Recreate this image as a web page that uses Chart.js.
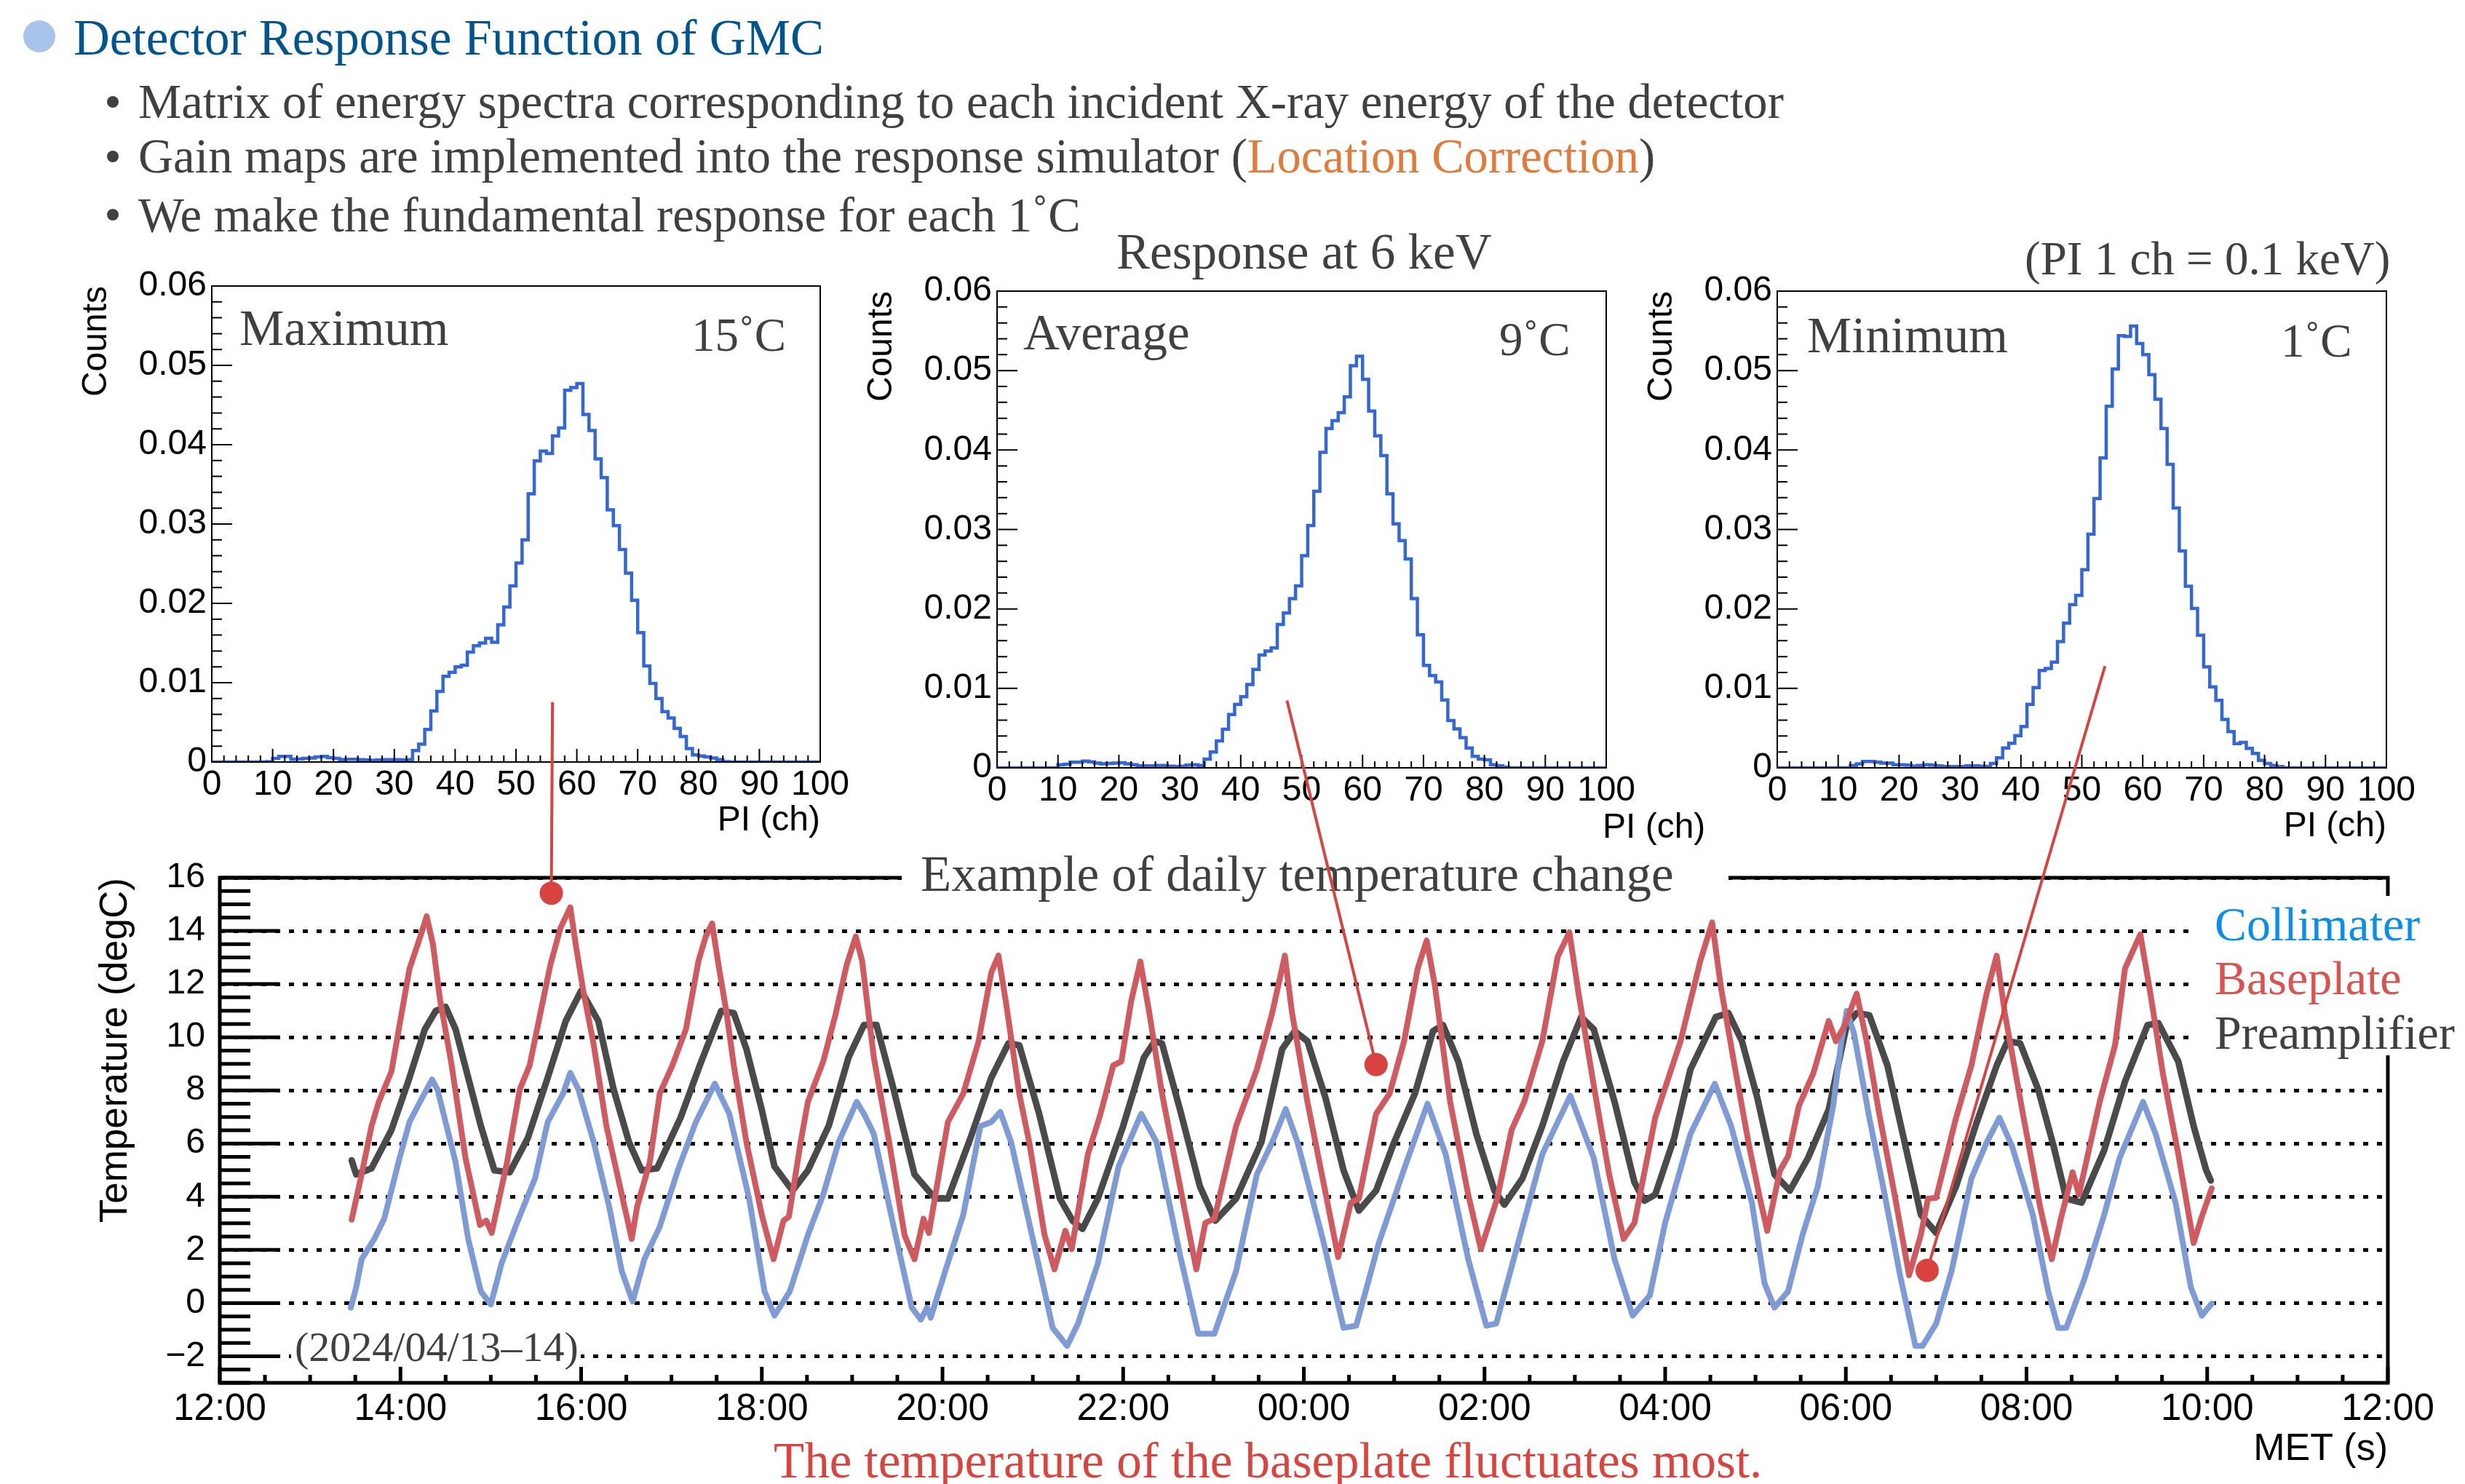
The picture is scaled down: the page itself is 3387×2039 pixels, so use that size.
<!DOCTYPE html>
<html>
<head>
<meta charset="utf-8">
<title>Detector Response Function of GMC</title>
<script src="https://cdn.jsdelivr.net/npm/chart.js@4/dist/chart.umd.min.js"></script>
<style>
  html, body { margin: 0; background: #fff; }
  #page { position: relative; width: 3387px; height: 2039px; overflow: hidden; background: #fff; }
  canvas { position: absolute; }
  .txt { position: absolute; white-space: nowrap; font-family: "Liberation Serif", serif; color: #404040; line-height: normal; z-index: 3; }
  .sans { font-family: "Liberation Sans", sans-serif; color: #000; }
  .mask { position: absolute; background: #fff; z-index: 2; }
  .dot { position: absolute; border-radius: 50%; z-index: 3; }
  #links { z-index: 4; pointer-events: none; }
</style>
</head>
<body>
<div id="page">
  <canvas id="hist1"></canvas>
  <canvas id="hist2"></canvas>
  <canvas id="hist3"></canvas>
  <canvas id="temp"></canvas>
  <canvas id="links" width="3387" height="2039"></canvas>
</div>
<script>
// ── Histograms: counts per PI bin, in units of 0.001 ──────────
const histMax = [0,0,0,0,0,0,0,0,0,0.05,
  0.45,0.7,0.7,0.35,0.4,0.45,0.5,0.65,0.7,0.55,
  0.45,0.3,0.35,0.35,0.3,0.25,0.2,0.25,0.3,0.3,
  0.3,0.25,0.3,1.45,2.25,4.1,6.45,8.9,10.8,11.3,
  12.0,12.2,13.85,14.65,15.0,15.6,15.1,17.3,19.55,22.2,
  25.1,28.0,33.8,37.95,39.2,38.9,41.1,42.1,46.85,47.2,
  47.7,43.8,41.8,38.2,35.85,31.8,29.8,26.8,23.8,20.4,
  16.3,12.1,9.9,8.0,6.35,5.55,4.25,3.2,1.7,0.9,
  0.75,0.65,0.5,0.3,0.05,0,0,0,0,0,
  0,0,0,0,0,0,0,0,0,0];
const histAvg = [0,0,0,0,0,0,0,0,0,0,
  0.4,0.45,0.7,0.7,0.85,0.75,0.6,0.5,0.55,0.6,
  0.65,0.5,0.4,0.25,0.25,0.25,0.3,0.3,0.2,0.15,
  0.2,0.35,0.4,0.3,1.1,2.0,3.4,4.85,6.7,8.0,
  8.95,10.5,12.4,14.2,14.7,15.1,18.05,19.5,21.3,22.9,
  26.7,30.5,34.8,39.7,42.7,43.7,44.7,46.7,50.6,51.8,
  48.9,44.9,41.8,39.3,34.5,30.7,28.6,26.3,21.3,16.75,
  12.9,11.6,10.8,8.55,5.95,4.9,3.8,2.5,1.45,1.1,
  1.0,0.4,0.25,0.1,0,0,0,0,0,0,
  0,0,0,0,0,0,0,0,0,0];
const histMin = [0,0,0,0,0,0,0,0,0,0,
  0,0,0.3,0.5,0.8,0.8,0.7,0.6,0.6,0.4,
  0.4,0.35,0.2,0.3,0.4,0.35,0.25,0.15,0.15,0.15,
  0.15,0.25,0.25,0.2,0.15,0.55,1.25,2.5,3.1,4.05,
  5.2,8.0,10.1,12.25,12.5,13.3,15.9,18.2,20.55,21.7,
  24.95,29.4,33.9,39.0,45.5,50.2,54.4,54.3,55.6,53.4,
  52.0,49.5,46.4,42.7,38.2,32.7,27.3,22.85,20.05,16.7,
  12.7,10.2,8.5,6.1,4.55,3.05,3.2,2.45,1.8,0.95,
  0.55,0.3,0.15,0,0,0,0,0,0,0,
  0,0,0,0,0,0,0,0,0,0];

const piTicks = [0, 10, 20, 30, 40, 50, 60, 70, 80, 90, 100];
const countTicks = [0, 0.01, 0.02, 0.03, 0.04, 0.05, 0.06];
const countLabels = ['0', '0.01', '0.02', '0.03', '0.04', '0.05', '0.06'];

// ── Temperature curves: hours after 12:00 and degC ────────────
const baseHours = [1.46,1.57,1.68,1.76,1.90,1.99,2.10,2.22,2.29,2.36,2.44,2.56,2.72,2.88,2.95,3.01,3.18,3.32,3.43,3.54,3.66,3.77,3.88,3.94,4.02,4.14,4.28,4.45,4.56,4.62,4.76,4.87,5.01,5.16,5.30,5.38,5.45,5.52,5.61,5.69,5.83,6.00,6.13,6.24,6.30,6.43,6.51,6.68,6.82,6.94,7.04,7.11,7.24,7.41,7.58,7.69,7.79,7.85,8.06,8.23,8.40,8.54,8.62,8.70,8.85,8.96,9.13,9.24,9.36,9.43,9.61,9.75,9.89,9.98,10.09,10.19,10.29,10.43,10.63,10.81,10.91,11.01,11.25,11.48,11.65,11.79,11.87,12.04,12.27,12.38,12.52,12.61,12.80,12.95,13.11,13.26,13.36,13.45,13.62,13.82,13.96,14.14,14.30,14.44,14.64,14.81,14.94,15.04,15.21,15.38,15.54,15.66,15.89,16.17,16.39,16.52,16.62,16.76,16.93,17.04,17.13,17.27,17.36,17.48,17.64,17.81,17.89,17.99,18.12,18.23,18.37,18.54,18.70,18.83,18.91,19.00,19.22,19.39,19.56,19.67,19.76,19.96,20.15,20.28,20.38,20.51,20.58,20.81,20.98,21.09,21.26,21.37,21.51,21.68,21.85,21.94,22.05];
const baseTemps = [3.14,4.84,6.66,7.57,8.71,10.46,12.58,13.79,14.55,13.49,11.37,9.09,5.45,2.94,3.10,2.64,5.30,8.03,8.94,10.76,12.73,14.10,14.89,13.49,11.82,9.70,6.66,4.08,2.41,3.63,5.30,7.88,8.94,10.30,12.88,13.79,14.28,12.73,10.91,8.94,6.05,3.32,1.65,3.10,3.25,6.05,7.57,9.09,10.91,12.73,13.79,12.88,9.24,6.05,2.56,1.65,3.17,2.64,6.81,7.88,9.85,12.43,13.07,11.37,7.88,6.05,2.56,1.27,2.72,2.03,5.60,7.12,8.94,9.09,11.37,12.85,10.91,7.88,4.39,1.27,3.02,3.17,6.66,8.79,10.91,13.07,10.91,7.57,3.63,1.73,3.78,3.93,7.12,7.88,9.85,12.58,13.64,11.97,7.57,4.08,2.03,3.93,6.51,7.57,9.85,13.03,13.95,11.67,8.18,4.84,2.41,3.02,6.97,9.85,12.88,14.32,11.82,9.09,5.90,4.08,2.72,4.98,5.52,7.42,8.64,10.61,9.85,10.46,11.64,9.85,7.12,4.08,1.05,2.56,3.93,3.96,6.97,8.94,11.67,13.07,10.91,7.12,3.63,1.65,3.17,4.92,4.08,7.57,9.70,12.58,13.87,11.67,8.63,5.60,2.26,3.25,4.31];

const preHours = [1.46,1.51,1.68,1.90,2.10,2.27,2.39,2.50,2.61,2.75,2.89,3.04,3.21,3.41,3.63,3.83,4.00,4.19,4.36,4.53,4.67,4.84,5.10,5.33,5.55,5.69,5.83,6.00,6.14,6.34,6.51,6.74,6.96,7.13,7.27,7.46,7.69,7.92,8.06,8.31,8.54,8.73,8.85,9.07,9.30,9.44,9.55,9.72,10.00,10.23,10.35,10.43,10.63,10.85,11.02,11.25,11.53,11.76,11.90,12.04,12.24,12.44,12.61,12.80,13.00,13.23,13.43,13.54,13.71,13.91,14.11,14.22,14.42,14.64,14.87,15.07,15.21,15.44,15.66,15.77,15.89,16.10,16.28,16.56,16.70,16.85,17.02,17.21,17.38,17.58,17.81,18.01,18.12,18.26,18.46,18.63,18.83,19.00,19.22,19.45,19.67,19.79,19.93,20.13,20.30,20.44,20.61,20.86,21.09,21.34,21.46,21.68,21.85,21.99,22.04];
const preTemps = [5.37,4.84,5.07,6.51,8.48,10.30,10.99,11.14,10.30,8.48,6.66,4.99,4.92,6.21,8.48,10.61,11.75,10.61,8.03,6.05,4.99,5.07,6.97,9.09,10.99,10.91,9.55,7.27,5.14,4.23,4.99,6.66,9.24,10.46,10.46,8.03,4.84,3.93,3.93,6.21,8.48,9.77,9.70,7.12,3.93,3.10,2.79,3.93,6.66,9.24,9.85,9.77,7.27,4.39,3.10,3.93,6.05,9.55,10.23,9.85,7.72,4.99,3.48,4.23,6.05,7.88,10.23,10.46,9.09,6.36,4.23,3.70,4.69,6.66,9.09,10.76,10.30,7.57,4.54,3.85,4.08,6.21,8.79,10.76,10.91,9.85,7.72,4.84,4.23,5.45,7.27,10.46,10.91,10.83,8.94,6.36,3.33,2.64,4.39,6.81,8.94,9.85,9.77,8.03,5.90,3.93,3.78,5.75,8.33,10.46,10.53,9.09,6.66,4.99,4.61];

const collHours = [1.45,1.51,1.57,1.71,1.82,1.99,2.10,2.24,2.35,2.41,2.61,2.75,2.89,3.00,3.12,3.29,3.49,3.63,3.80,3.88,3.97,4.14,4.31,4.45,4.57,4.70,4.87,5.07,5.27,5.48,5.64,5.86,6.03,6.14,6.31,6.51,6.68,6.85,7.05,7.13,7.24,7.46,7.66,7.76,7.83,7.87,8.03,8.23,8.42,8.54,8.64,8.76,8.99,9.22,9.38,9.50,9.72,9.95,10.20,10.37,10.63,10.83,11.01,11.25,11.48,11.65,11.80,11.93,12.21,12.44,12.58,12.83,13.12,13.37,13.57,13.82,14.02,14.13,14.36,14.64,14.95,15.21,15.44,15.64,15.83,16.00,16.28,16.55,16.73,16.96,17.10,17.21,17.36,17.52,17.69,17.86,17.95,18.01,18.09,18.26,18.43,18.60,18.77,18.85,19.00,19.17,19.39,19.56,19.70,19.84,20.07,20.24,20.35,20.44,20.64,20.86,21.03,21.29,21.43,21.65,21.82,21.94,22.05];
const collTemps = [-0.17,0.59,1.65,2.41,3.17,5.45,6.81,7.72,8.41,8.03,5.30,2.41,0.44,-0.05,1.50,3.02,4.69,6.81,7.88,8.66,8.03,6.05,3.63,1.20,0.06,1.65,2.87,4.99,6.81,8.25,7.12,3.93,0.44,-0.47,0.44,2.56,4.08,6.05,7.57,7.12,6.36,2.87,-0.17,-0.62,-0.17,-0.55,1.20,3.32,6.66,6.81,7.19,6.05,2.56,-0.93,-1.61,-0.77,1.50,5.14,7.12,6.05,1.81,-1.15,-1.15,1.20,4.84,6.05,7.30,6.05,2.41,-0.93,-0.85,2.26,5.14,7.50,5.60,1.65,-0.85,-0.77,2.11,5.60,7.80,5.45,1.65,-0.47,0.29,3.02,6.36,8.25,6.66,3.78,0.74,-0.17,0.44,2.56,4.39,7.42,9.85,10.99,10.15,6.97,4.08,1.05,-1.61,-1.61,-0.77,1.20,4.69,6.05,6.97,5.90,3.32,0.44,-0.93,-0.93,0.90,3.32,5.45,7.57,6.36,3.78,0.59,-0.47,-0.02];

const hourTicks = [0, 2, 4, 6, 8, 10, 12, 14, 16, 18, 20, 22, 24];
const hourLabels = ['12:00','14:00','16:00','18:00','20:00','22:00','00:00','02:00','04:00','06:00','08:00','10:00','12:00'];
const tempTicks = [-2, 0, 2, 4, 6, 8, 10, 12, 14, 16];

// Red markers on the baseplate plot and the spectrum each one points to
const markerHours = [3.67, 12.80, 18.90];
const markerTemps = [15.42, 8.97, 1.23];
const linkPI = [56, 47.6, 53.8];
const linkCounts = [0.00754, 0.00847, 0.0128];

// ── ROOT style frame with inward ticks ────────────────────────
const rootFrame = {
  id: 'rootFrame',
  afterDraw(chart, args, o) {
    const { ctx, chartArea: a, scales } = chart;
    ctx.save();
    ctx.strokeStyle = '#000';
    ctx.lineWidth = o.tickWidth;
    ctx.beginPath();
    for (let i = 0; i <= o.xCount; i++) {
      const x = scales.x.getPixelForValue(i * o.xStep);
      const len = i % o.xEvery === 0 ? o.xMajor : o.xMinor;
      ctx.moveTo(x, a.bottom);
      ctx.lineTo(x, a.bottom - len);
    }
    for (let i = 0; i <= o.yCount; i++) {
      const y = scales.y.getPixelForValue(o.yStart + i * o.yStep);
      const len = (i + o.yShift) % o.yEvery === 0 ? o.yMajor : o.yMinor;
      ctx.moveTo(a.left, y);
      ctx.lineTo(a.left + len, y);
    }
    ctx.stroke();
    ctx.lineWidth = o.frameWidth;
    ctx.strokeRect(a.left, a.top, a.right - a.left, a.bottom - a.top);
    ctx.restore();
  }
};

// ── Spectrum panels ───────────────────────────────────────────
function renderHist(id, values, box, showPiTitle) {
  const cv = document.getElementById(id);
  const axisW = 193, axisH = 110, padTop = 70, padRight = 60;
  cv.width = axisW + box.w + padRight;
  cv.height = padTop + box.h + axisH;
  cv.style.left = (box.x - axisW) + 'px';
  cv.style.top = (box.y - padTop) + 'px';
  const points = [{ x: 0, y: 0 }].concat(values.map((v, i) => ({ x: i + 1, y: v / 1000 })));
  return new Chart(cv, {
    type: 'line',
    data: { datasets: [{ data: points, borderColor: '#3366d6', borderWidth: 4.5, pointRadius: 0, stepped: 'after' }] },
    options: {
      responsive: false,
      animation: false,
      layout: { padding: { top: padTop, right: padRight } },
      plugins: {
        legend: { display: false },
        tooltip: { enabled: false },
        rootFrame: { frameWidth: 2, tickWidth: 2, xCount: 50, xStep: 2, xEvery: 5, xMajor: 18, xMinor: 9,
                     yCount: 30, yStart: 0, yStep: 0.002, yShift: 0, yEvery: 5, yMajor: 28, yMinor: 14 }
      },
      scales: {
        x: {
          type: 'linear', min: 0, max: 100,
          afterBuildTicks: s => { s.ticks = piTicks.map(v => ({ value: v })); },
          afterFit: s => { s.height = axisH; },
          grid: { display: false },
          border: { display: false },
          ticks: { color: '#000', font: { family: 'Liberation Sans', size: 48 }, padding: -5, autoSkip: false, maxRotation: 0 },
          title: { display: showPiTitle, text: 'PI (ch)', color: '#000', align: 'end', padding: 0, font: { family: 'Liberation Sans', size: 48 } }
        },
        y: {
          type: 'linear', min: 0, max: 0.06,
          afterBuildTicks: s => { s.ticks = countTicks.map(v => ({ value: v })); },
          afterFit: s => { s.width = axisW; },
          grid: { display: false },
          border: { display: false },
          ticks: {
            color: '#000', font: { family: 'Liberation Sans', size: 48 }, padding: -1,
            callback: v => countLabels[countTicks.indexOf(v)]
          },
          title: { display: true, text: 'Counts', color: '#000', align: 'end', padding: { top: 6, bottom: 0 }, font: { family: 'Liberation Sans', size: 48 } }
        }
      }
    },
    plugins: [rootFrame]
  });
}

// ── Temperature panel ─────────────────────────────────────────
function renderTemp() {
  const box = { x: 302, y: 1206, w: 2979, h: 694 };
  const axisW = 176, axisH = 123, padTop = 70, padRight = 75;
  const cv = document.getElementById('temp');
  cv.width = axisW + box.w + padRight;
  cv.height = padTop + box.h + axisH;
  cv.style.left = (box.x - axisW) + 'px';
  cv.style.top = (box.y - padTop) + 'px';
  const curve = (hours, temps) => hours.map((h, i) => ({ x: h, y: temps[i] }));
  const line = { pointRadius: 0, borderWidth: 8, tension: 0, borderJoinStyle: 'round', borderCapStyle: 'round' };
  return new Chart(cv, {
    type: 'line',
    data: {
      datasets: [
        { label: 'Preamplifier', data: curve(preHours, preTemps), borderColor: '#4a4a4a', order: 3, ...line, borderWidth: 9 },
        { label: 'Collimater', data: curve(collHours, collTemps), borderColor: '#7f9bd6', order: 2, ...line },
        { label: 'Baseplate', data: curve(baseHours, baseTemps), borderColor: '#cf5b60', order: 1, ...line },
        { label: 'Markers', data: curve(markerHours, markerTemps), showLine: false, order: 0, pointRadius: 16,
          pointBackgroundColor: '#d9433f', pointBorderWidth: 0 }
      ]
    },
    options: {
      responsive: false,
      animation: false,
      layout: { padding: { top: padTop, right: padRight } },
      plugins: {
        legend: { display: false },
        tooltip: { enabled: false },
        rootFrame: { frameWidth: 5, tickWidth: 5, xCount: 48, xStep: 0.5, xEvery: 4, xMajor: 22, xMinor: 11,
                     yCount: 38, yStart: -3, yStep: 0.5, yShift: 2, yEvery: 4, yMajor: 82, yMinor: 42 }
      },
      scales: {
        x: {
          type: 'linear', min: 0, max: 24,
          afterBuildTicks: s => { s.ticks = hourTicks.map(v => ({ value: v })); },
          afterFit: s => { s.height = axisH; },
          grid: { display: false },
          border: { display: false },
          ticks: {
            color: '#000', font: { family: 'Liberation Sans', size: 51 }, padding: -2, autoSkip: false, maxRotation: 0,
            callback: v => hourLabels[hourTicks.indexOf(v)]
          },
          title: { display: true, text: 'MET (s)', color: '#000', align: 'end', padding: 0, font: { family: 'Liberation Sans', size: 52 } }
        },
        y: {
          type: 'linear', min: -3, max: 16,
          afterBuildTicks: s => { s.ticks = tempTicks.map(v => ({ value: v })); },
          afterFit: s => { s.width = axisW; },
          grid: { color: '#000', lineWidth: 5, drawTicks: false },
          border: { display: false, dash: [7, 12] },
          ticks: {
            color: '#000', font: { family: 'Liberation Sans', size: 48 }, padding: 20,
            callback: v => (v < 0 ? '\u2212' + Math.abs(v) : String(v))
          },
          title: { display: true, text: 'Temperature (degC)', color: '#000', align: 'end', padding: { top: 2, bottom: 0 }, font: { family: 'Liberation Sans', size: 53 } }
        }
      }
    },
    plugins: [rootFrame]
  });
}

const chartMax = renderHist('hist1', histMax, { x: 291, y: 393, w: 836, h: 654 }, true);
const chartAvg = renderHist('hist2', histAvg, { x: 1370, y: 400, w: 837, h: 655 }, false);
const chartMin = renderHist('hist3', histMin, { x: 2442, y: 400, w: 837, h: 655 }, true);
const chartTemp = renderTemp();

// ── Red connectors, spectrum to marker, across the canvases ───
function pageXY(chart, x, y) {
  return {
    x: chart.canvas.offsetLeft + chart.scales.x.getPixelForValue(x),
    y: chart.canvas.offsetTop + chart.scales.y.getPixelForValue(y)
  };
}
const linkCtx = document.getElementById('links').getContext('2d');
linkCtx.strokeStyle = '#d9433f';
linkCtx.lineWidth = 4;
[chartMax, chartAvg, chartMin].forEach((chart, i) => {
  const from = pageXY(chart, linkPI[i], linkCounts[i]);
  const to = pageXY(chartTemp, markerHours[i], markerTemps[i]);
  linkCtx.beginPath();
  linkCtx.moveTo(from.x, from.y);
  linkCtx.lineTo(to.x, to.y);
  linkCtx.stroke();
});

// ── Slide text ────────────────────────────────────────────────
const page = document.getElementById('page');
function addMask(x, y, w, h) {
  const m = document.createElement('div');
  m.className = 'mask';
  m.style.cssText = `left:${x}px;top:${y}px;width:${w}px;height:${h}px`;
  page.appendChild(m);
}
function addDot(cx, cy, r, color) {
  const d = document.createElement('div');
  d.className = 'dot';
  d.style.cssText = `left:${cx - r}px;top:${cy - r}px;width:${2 * r}px;height:${2 * r}px;background:${color}`;
  page.appendChild(d);
}
function addText(html, x, baseline, size, color, cls) {
  const t = document.createElement('div');
  t.className = 'txt' + (cls ? ' ' + cls : '');
  t.innerHTML = html;
  t.style.left = x + 'px';
  const ascent = cls ? 0.905 : 0.891;
  t.style.top = (baseline - ascent * size) + 'px';
  t.style.fontSize = size + 'px';
  if (color) t.style.color = color;
  page.appendChild(t);
}

addMask(1239, 1190, 1136, 40);
addMask(3010, 1231, 377, 219);
addMask(400, 1838, 398, 38);

addDot(54, 50, 22, '#a9c4ea');
addText('Detector Response Function of GMC', 101, 74, 69, '#00558f');
addDot(155, 140, 8, '#404040');
addDot(155, 215, 8, '#404040');
addDot(155, 295, 8, '#404040');
addText('Matrix of energy spectra corresponding to each incident X-ray energy of the detector', 190, 161, 66.6);
addText('Gain maps are implemented into the response simulator (<span style="color:#e07b39">Location Correction</span>)', 190, 236, 66.6);
addText('We make the fundamental response for each 1˚C', 190, 317, 66.6);
addText('Response at 6 keV', 1534, 368, 69);
addText('(PI 1 ch = 0.1 keV)', 2782, 376, 65);
addText('Maximum', 329, 473, 69);
addText('15˚C', 950, 481, 65);
addText('Average', 1406, 479, 69);
addText('9˚C', 2060, 487, 65);
addText('Minimum', 2483, 483, 69);
addText('1˚C', 3134, 489, 65);
addText('PI (ch)', 2202, 1150, 48, null, 'sans');
addText('Example of daily temperature change', 1265, 1223, 69);
addText('(2024/04/13–14)', 405, 1869, 58);
addText('Collimater', 3043, 1291, 66, '#0a8fe8');
addText('Baseplate', 3043, 1365, 66, '#d9534f');
addText('Preamplifier', 3043, 1440, 66);
addText('The temperature of the baseplate fluctuates most.', 1063, 2029, 69, '#d9443f');
</script>
</body>
</html>
